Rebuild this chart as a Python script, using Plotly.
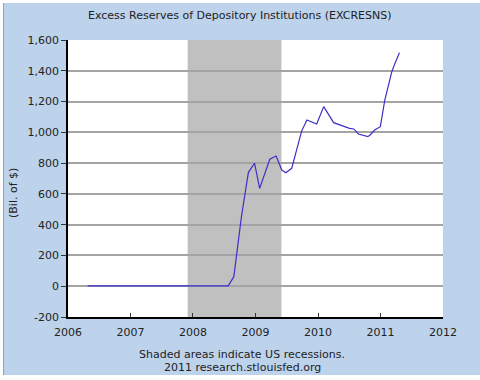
import plotly.graph_objects as go

dates = ["2006-04-26", "2006-07-01", "2006-10-01", "2007-01-01", "2007-04-01",
         "2007-07-01", "2007-10-01", "2008-01-01", "2008-04-01", "2008-07-25",
         "2008-08-27", "2008-10-10", "2008-11-20", "2008-12-26", "2009-01-25",
         "2009-03-25", "2009-05-01", "2009-06-03", "2009-06-27", "2009-07-31",
         "2009-09-27", "2009-10-28", "2009-12-24", "2010-02-03", "2010-04-02",
         "2010-05-02", "2010-07-04", "2010-07-28", "2010-08-25", "2010-10-19",
         "2010-11-01", "2010-11-28", "2010-12-31", "2011-01-26", "2011-03-08",
         "2011-03-26", "2011-04-22"]
values = [1.8, 1.9, 1.7, 1.8, 1.6, 1.8, 1.9, 1.7, 2.0, 2.0,
          62, 450, 740, 799, 636,
          825, 846, 755, 738, 766,
          1008, 1080, 1054, 1167, 1063,
          1050, 1026, 1022, 989, 972,
          983, 1015, 1037, 1210, 1394,
          1448, 1518]

recession_start = "2007-12-01"
recession_end = "2009-06-01"

x_ticks = ["2006-01-01", "2007-01-01", "2008-01-01", "2009-01-01",
           "2010-01-01", "2011-01-01", "2012-01-01"]
x_tick_labels = ["2006", "2007", "2008", "2009", "2010", "2011", "2012"]
y_ticks = [-200, 0, 200, 400, 600, 800, 1000, 1200, 1400, 1600]
y_tick_labels = ["-200", "0", "200", "400", "600", "800", "1,000", "1,200", "1,400", "1,600"]

title_text = "Excess Reserves of Depository Institutions (EXCRESNS)"
y_title = "(Bil. of $)"
footer1 = "Shaded areas indicate US recessions."
footer2 = "2011 research.stlouisfed.org"

FONT = "DejaVu Sans"
W, H = 480, 380
L, R, T, B = 68, 37, 40, 63
pw, ph = W - L - R, H - T - B

def px(xp):
    return (xp - L) / pw

def py(yp):
    return (H - B - yp) / ph

fig = go.Figure()
fig.add_trace(go.Scatter(x=dates, y=values, mode="lines",
                         line=dict(color="#3a30c6", width=1.2),
                         hoverinfo="skip", showlegend=False))

shapes = [
    dict(type="rect", xref="x", yref="paper", x0=recession_start, x1=recession_end,
         y0=0, y1=1, fillcolor="#c0c0c0", line=dict(width=0), layer="between"),
    dict(type="rect", xref="paper", yref="paper", x0=px(0), x1=px(3), y0=py(380), y1=py(0),
         fillcolor="#ffffff", line=dict(width=0), layer="below"),
    dict(type="rect", xref="paper", yref="paper", x0=px(0), x1=px(480), y0=py(3), y1=py(0),
         fillcolor="#ffffff", line=dict(width=0), layer="below"),
    dict(type="rect", xref="paper", yref="paper", x0=px(0), x1=px(480), y0=py(380), y1=py(375),
         fillcolor="#ffffff", line=dict(width=0), layer="below"),
    dict(type="line", xref="paper", yref="paper", x0=px(3.5), x1=px(3.5), y0=py(375), y1=py(3),
         line=dict(color="#a0a0a0", width=1), layer="below"),
]

annotations = [
    dict(text=title_text, x=px(240), y=py(15), xref="paper", yref="paper",
         showarrow=False, xanchor="center", yanchor="middle",
         font=dict(family=FONT, size=11, color="#222222")),
    dict(text=y_title, x=px(13), y=py(193), xref="paper", yref="paper", textangle=-90,
         showarrow=False, xanchor="center", yanchor="middle",
         font=dict(family=FONT, size=11, color="#222222")),
    dict(text=footer1, x=px(242), y=py(354), xref="paper", yref="paper",
         showarrow=False, xanchor="center", yanchor="middle",
         font=dict(family=FONT, size=11, color="#222222")),
    dict(text=footer2, x=px(242), y=py(367), xref="paper", yref="paper",
         showarrow=False, xanchor="center", yanchor="middle",
         font=dict(family=FONT, size=11, color="#222222")),
]

fig.update_layout(
    width=W, height=H,
    margin=dict(l=L, r=R, t=T, b=B, pad=0),
    paper_bgcolor="#bdd2eb",
    plot_bgcolor="#ffffff",
    shapes=shapes,
    annotations=annotations,
    xaxis=dict(type="date", range=["2006-01-01", "2012-01-01"],
               tickvals=x_ticks, ticktext=x_tick_labels,
               ticks="inside", ticklen=4, tickcolor="#333333", tickwidth=1,
               showgrid=False, zeroline=False,
               showline=True, linecolor="#000000", linewidth=1.5,
               tickfont=dict(family=FONT, size=11, color="#222222"),
               ticklabelstandoff=4, fixedrange=True),
    yaxis=dict(range=[-200, 1600], tickvals=y_ticks, ticktext=y_tick_labels,
               ticks="outside", ticklen=5, tickcolor="#333333", tickwidth=1,
               showgrid=True, gridcolor="#a4a4a4", gridwidth=1.5,
               zeroline=False,
               showline=True, linecolor="#000000", linewidth=1.5,
               tickfont=dict(family=FONT, size=11, color="#222222"),
               fixedrange=True),
)

fig.write_html("out.html", config={"displayModeBar": False},
               post_script="document.body.style.margin='0';document.body.style.overflow='hidden';")
